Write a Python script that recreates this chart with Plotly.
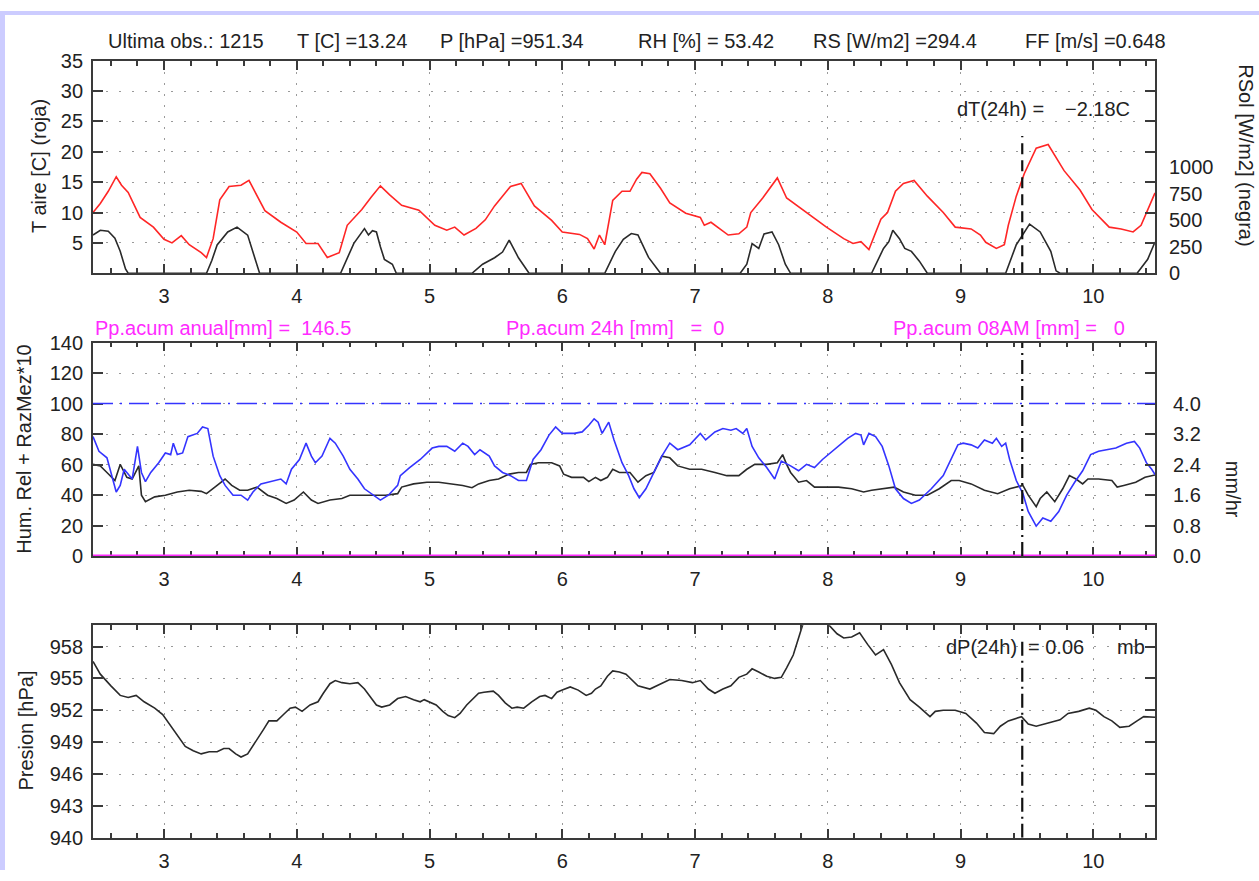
import plotly.graph_objects as go

W, H = 1259, 881

# ---------------- station series (day of month, value) ----------------
temp_c = [
    (2.465, 10.0), (2.52, 11.5), (2.58, 13.5), (2.64, 15.9), (2.68, 14.5), (2.73, 13.3),
    (2.82, 9.2), (2.92, 7.6), (3.00, 5.6), (3.06, 5.0), (3.13, 6.2), (3.19, 4.7),
    (3.28, 3.4), (3.32, 2.6), (3.37, 5.7), (3.42, 12.1), (3.49, 14.3), (3.58, 14.5),
    (3.64, 15.3), (3.70, 12.8), (3.76, 10.3), (3.88, 8.4), (4.00, 6.8), (4.07, 4.9),
    (4.16, 4.9), (4.23, 2.6), (4.32, 3.4), (4.38, 7.9), (4.49, 10.5), (4.56, 12.5),
    (4.63, 14.4), (4.70, 12.9), (4.79, 11.2), (4.92, 10.4), (5.04, 7.9), (5.13, 7.1),
    (5.19, 7.6), (5.26, 6.3), (5.35, 7.4), (5.42, 8.8), (5.49, 11.1), (5.61, 14.3),
    (5.69, 14.8), (5.79, 11.1), (5.92, 8.7), (6.00, 6.8), (6.13, 6.4), (6.19, 5.7),
    (6.24, 4.0), (6.28, 6.3), (6.32, 4.7), (6.38, 12.0), (6.45, 13.5), (6.51, 13.5),
    (6.56, 15.5), (6.60, 16.6), (6.66, 16.4), (6.74, 14.0), (6.81, 11.6), (6.93, 9.9),
    (7.04, 9.2), (7.07, 7.9), (7.12, 8.4), (7.25, 6.3), (7.33, 6.5), (7.39, 7.6),
    (7.42, 10.0), (7.51, 12.4), (7.62, 15.7), (7.69, 12.4), (7.84, 10.0), (7.99, 7.6),
    (8.12, 5.7), (8.19, 4.9), (8.25, 5.2), (8.31, 3.9), (8.40, 8.9), (8.45, 10.0),
    (8.51, 13.5), (8.57, 14.8), (8.65, 15.3), (8.75, 12.7), (8.87, 10.0), (8.96, 7.6),
    (9.08, 7.3), (9.15, 6.3), (9.19, 5.1), (9.27, 4.1), (9.33, 4.7), (9.36, 7.9),
    (9.42, 12.7), (9.48, 16.4), (9.57, 20.6), (9.66, 21.2), (9.78, 16.9), (9.90, 13.7),
    (9.99, 10.5), (10.12, 7.6), (10.21, 7.3), (10.30, 6.8), (10.36, 7.9), (10.41, 10.5),
    (10.465, 13.24),
]

rsol_wm2 = [
    (2.465, 360), (2.52, 405), (2.58, 395), (2.63, 330), (2.67, 207), (2.71, 40), (2.73, 0),
    (3.32, 0), (3.36, 120), (3.40, 267), (3.48, 389), (3.55, 434), (3.63, 359), (3.69, 115), (3.72, 0),
    (4.33, 0), (4.38, 150), (4.43, 282), (4.51, 420), (4.54, 360), (4.57, 400), (4.60, 389),
    (4.63, 250), (4.66, 131), (4.72, 85), (4.75, 0),
    (5.32, 0), (5.40, 85), (5.49, 146), (5.55, 200), (5.60, 313), (5.67, 146), (5.75, 0),
    (6.32, 0), (6.40, 207), (6.46, 320), (6.52, 374), (6.57, 360), (6.65, 149), (6.74, 0),
    (7.34, 0), (7.39, 85), (7.43, 280), (7.48, 234), (7.52, 371), (7.58, 389), (7.63, 269),
    (7.68, 85), (7.72, 0),
    (8.33, 0), (8.42, 234), (8.46, 297), (8.49, 406), (8.54, 326), (8.58, 234), (8.63, 206),
    (8.69, 114), (8.75, 0),
    (9.34, 0), (9.42, 269), (9.52, 463), (9.60, 389), (9.68, 206), (9.72, 23), (9.75, 0),
    (10.33, 0), (10.41, 131), (10.465, 294.4),
]

rel_hum = [
    (2.465, 78.3), (2.51, 68.7), (2.57, 64.4), (2.61, 50.5), (2.64, 42.0), (2.67, 46.3),
    (2.70, 56.9), (2.76, 50.5), (2.80, 71.9), (2.83, 54.8), (2.86, 48.8), (2.90, 54.8),
    (2.96, 61.2), (3.01, 67.6), (3.05, 66.5), (3.07, 74.0), (3.10, 66.5), (3.14, 67.6),
    (3.18, 78.3), (3.25, 80.4), (3.29, 84.6), (3.33, 83.6), (3.37, 65.5), (3.42, 52.7),
    (3.46, 46.3), (3.52, 39.9), (3.58, 39.9), (3.63, 36.7), (3.67, 42.0), (3.73, 47.3),
    (3.81, 48.8), (3.88, 50.5), (3.92, 47.3), (3.96, 56.9), (4.02, 63.3), (4.07, 74.0),
    (4.11, 65.5), (4.14, 61.2), (4.19, 65.5), (4.25, 77.2), (4.29, 74.0), (4.35, 65.5),
    (4.40, 56.9), (4.46, 50.5), (4.51, 44.1), (4.57, 40.3), (4.63, 36.7), (4.69, 39.9),
    (4.76, 46.3), (4.78, 52.7), (4.85, 58.0), (4.93, 63.3), (5.02, 70.8), (5.07, 71.9),
    (5.13, 71.9), (5.19, 68.7), (5.25, 74.0), (5.29, 71.9), (5.34, 66.5), (5.38, 69.7),
    (5.45, 65.5), (5.49, 59.1), (5.55, 54.8), (5.61, 52.7), (5.67, 49.5), (5.73, 49.5),
    (5.78, 63.3), (5.84, 69.7), (5.90, 79.3), (5.95, 84.6), (6.00, 80.4), (6.09, 80.4),
    (6.15, 81.4), (6.20, 85.7), (6.24, 90.0), (6.27, 87.8), (6.30, 80.4), (6.35, 87.8),
    (6.39, 76.1), (6.45, 61.2), (6.50, 52.7), (6.54, 44.1), (6.58, 38.2), (6.63, 44.1),
    (6.69, 54.8), (6.75, 65.5), (6.81, 74.0), (6.87, 69.7), (6.96, 72.9), (7.04, 80.4),
    (7.08, 76.1), (7.15, 81.4), (7.21, 83.6), (7.27, 82.5), (7.31, 83.6), (7.36, 80.4),
    (7.39, 83.6), (7.43, 71.9), (7.48, 64.4), (7.54, 58.0), (7.60, 50.5), (7.65, 62.3),
    (7.72, 59.1), (7.78, 55.9), (7.84, 60.1), (7.90, 58.0), (7.96, 63.3), (8.02, 67.6),
    (8.08, 71.9), (8.15, 77.2), (8.21, 80.4), (8.25, 79.3), (8.27, 72.9), (8.31, 80.4),
    (8.36, 78.3), (8.41, 71.9), (8.46, 59.1), (8.51, 44.1), (8.57, 37.7), (8.63, 34.5),
    (8.69, 36.7), (8.78, 44.1), (8.87, 52.7), (8.93, 63.3), (8.98, 72.9), (9.02, 74.0),
    (9.08, 72.9), (9.13, 70.8), (9.18, 76.1), (9.24, 74.0), (9.27, 77.2), (9.31, 71.9),
    (9.34, 74.0), (9.37, 63.3), (9.42, 49.5), (9.47, 40.9), (9.51, 29.2), (9.57, 19.6),
    (9.62, 24.9), (9.68, 22.8), (9.74, 29.2), (9.80, 39.9), (9.86, 48.4), (9.92, 55.9),
    (9.98, 66.5), (10.04, 68.7), (10.11, 69.7), (10.17, 70.8), (10.25, 74.0), (10.31, 75.1),
    (10.35, 70.8), (10.40, 61.2), (10.44, 56.9), (10.465, 53.42),
]

# mixing ratio (g/kg) x 10
mix_ratio_x10 = [
    (2.465, 60.1), (2.52, 59.1), (2.57, 54.8), (2.63, 49.5), (2.67, 60.1), (2.72, 51.6),
    (2.76, 50.5), (2.81, 59.1), (2.83, 39.9), (2.86, 35.6), (2.93, 38.8), (3.01, 39.9),
    (3.10, 42.0), (3.19, 43.1), (3.28, 42.4), (3.32, 40.9), (3.40, 46.3), (3.46, 50.5),
    (3.51, 46.3), (3.57, 43.1), (3.63, 43.1), (3.70, 45.2), (3.78, 39.9), (3.85, 37.7),
    (3.92, 34.5), (3.98, 36.7), (4.05, 42.0), (4.11, 36.7), (4.16, 34.5), (4.25, 36.7),
    (4.34, 37.7), (4.40, 39.9), (4.49, 39.9), (4.58, 39.9), (4.67, 39.9), (4.76, 40.9),
    (4.79, 45.2), (4.88, 47.3), (4.98, 48.4), (5.07, 48.4), (5.16, 47.3), (5.25, 46.3),
    (5.32, 44.8), (5.37, 47.3), (5.45, 49.5), (5.52, 50.5), (5.60, 53.7), (5.67, 54.8),
    (5.73, 54.8), (5.76, 60.1), (5.82, 61.2), (5.92, 61.2), (5.98, 59.1), (6.01, 53.7),
    (6.07, 51.6), (6.16, 51.6), (6.20, 48.8), (6.25, 51.6), (6.29, 49.5), (6.34, 51.6),
    (6.38, 56.9), (6.43, 54.8), (6.48, 54.8), (6.51, 54.8), (6.57, 48.4), (6.63, 52.7),
    (6.69, 54.8), (6.75, 65.5), (6.81, 64.4), (6.87, 59.1), (6.96, 56.9), (7.05, 56.9),
    (7.15, 54.8), (7.24, 52.7), (7.33, 52.7), (7.39, 56.9), (7.45, 60.1), (7.54, 60.1),
    (7.62, 61.2), (7.66, 66.5), (7.69, 60.1), (7.72, 54.8), (7.78, 48.4), (7.84, 49.5),
    (7.90, 45.2), (7.99, 45.2), (8.08, 45.2), (8.18, 44.1), (8.27, 42.0), (8.33, 43.1),
    (8.42, 44.1), (8.50, 45.2), (8.57, 42.0), (8.66, 39.9), (8.75, 39.9), (8.84, 44.1),
    (8.93, 49.5), (8.99, 49.5), (9.08, 47.3), (9.18, 43.1), (9.28, 40.9), (9.37, 44.1),
    (9.47, 46.3), (9.51, 39.9), (9.57, 32.4), (9.60, 37.7), (9.65, 42.0), (9.71, 35.6),
    (9.77, 44.1), (9.82, 52.7), (9.87, 50.5), (9.92, 47.3), (9.96, 50.5), (10.04, 50.5),
    (10.14, 49.5), (10.18, 45.2), (10.23, 46.3), (10.32, 48.4), (10.39, 51.6), (10.465, 53.1),
]

# precipitation rate (mm/hr)
precip_rate = [(2.465, 0.0), (6.465, 0.0), (10.465, 0.0)]

pressure_hpa = [
    (2.465, 956.6), (2.52, 955.4), (2.60, 954.3), (2.67, 953.4), (2.73, 953.2), (2.79, 953.4),
    (2.85, 952.8), (2.93, 952.2), (2.99, 951.6), (3.05, 950.5), (3.11, 949.5), (3.16, 948.6),
    (3.22, 948.2), (3.28, 947.9), (3.34, 948.1), (3.40, 948.1), (3.45, 948.4), (3.49, 948.4),
    (3.54, 947.9), (3.58, 947.6), (3.63, 947.9), (3.69, 949.0), (3.75, 950.2), (3.79, 951.0),
    (3.85, 951.0), (3.90, 951.6), (3.95, 952.2), (3.99, 952.3), (4.04, 951.9), (4.10, 952.5),
    (4.16, 952.8), (4.20, 953.6), (4.25, 954.5), (4.29, 954.8), (4.34, 954.6), (4.40, 954.5),
    (4.46, 954.6), (4.51, 954.0), (4.55, 953.3), (4.60, 952.5), (4.64, 952.3), (4.70, 952.5),
    (4.76, 953.1), (4.82, 953.3), (4.88, 953.0), (4.93, 952.8), (4.96, 953.0), (5.01, 952.7),
    (5.05, 952.5), (5.10, 951.9), (5.14, 951.5), (5.19, 951.3), (5.23, 951.7), (5.28, 952.5),
    (5.32, 953.0), (5.37, 953.6), (5.41, 953.7), (5.48, 953.8), (5.52, 953.4), (5.57, 952.7),
    (5.62, 952.2), (5.66, 952.3), (5.71, 952.2), (5.77, 952.8), (5.83, 953.3), (5.87, 953.4),
    (5.92, 953.1), (5.96, 953.7), (6.00, 953.9), (6.06, 954.2), (6.12, 953.9), (6.18, 953.4),
    (6.22, 953.6), (6.25, 954.0), (6.29, 954.3), (6.34, 955.2), (6.38, 955.7), (6.43, 955.6),
    (6.48, 955.4), (6.57, 954.3), (6.66, 954.0), (6.74, 954.5), (6.81, 954.9), (6.90, 954.8),
    (6.98, 954.6), (7.04, 954.8), (7.10, 954.0), (7.15, 953.6), (7.21, 954.0), (7.27, 954.3),
    (7.33, 955.1), (7.39, 955.4), (7.43, 955.9), (7.48, 955.6), (7.54, 955.2), (7.60, 955.0),
    (7.65, 955.1), (7.69, 956.0), (7.74, 957.2), (7.78, 958.8), (7.81, 960.0), (7.85, 961.0),
    (7.91, 961.8), (7.96, 961.4), (8.01, 960.0), (8.07, 959.2), (8.12, 958.8), (8.18, 958.9),
    (8.24, 959.3), (8.30, 958.2), (8.36, 957.2), (8.42, 957.7), (8.48, 956.3), (8.54, 954.6),
    (8.62, 953.0), (8.69, 952.3), (8.77, 951.4), (8.81, 951.9), (8.87, 952.0), (8.96, 952.0),
    (9.04, 951.7), (9.12, 950.8), (9.18, 949.9), (9.25, 949.8), (9.30, 950.5), (9.36, 951.0),
    (9.46, 951.4), (9.51, 950.7), (9.57, 950.5), (9.66, 950.8), (9.75, 951.1), (9.81, 951.7),
    (9.89, 951.9), (9.97, 952.2), (10.02, 952.0), (10.08, 951.4), (10.14, 951.0), (10.20, 950.4),
    (10.27, 950.5), (10.33, 951.0), (10.38, 951.4), (10.465, 951.34),
]

# summary values printed above the panels
last_obs = "1215"
last_ff = 0.648
dT_24h = -2.18
dP_24h = 0.06
pp_anual = 146.5
pp_24h = 0
pp_08am = 0

xtick_days = [3, 4, 5, 6, 7, 8, 9, 10]
t_ticks = [5, 10, 15, 20, 25, 30, 35]
rs_ticks = [0, 250, 500, 750, 1000]
hum_ticks = [0, 20, 40, 60, 80, 100, 120, 140]
rate_ticks = [0.0, 0.8, 1.6, 2.4, 3.2, 4.0]
p_ticks = [940, 943, 946, 949, 952, 955, 958]


def unzip(pairs):
    return [p[0] for p in pairs], [p[1] for p in pairs]


t_day, t_val = unzip(temp_c)
rs_day, rs_val = unzip(rsol_wm2)
rh_day, rh_val = unzip(rel_hum)
mr_day, mr_val = unzip(mix_ratio_x10)
pp_day, pp_val = unzip(precip_rate)
p_day, p_val = unzip(pressure_hpa)

x_end = t_day[-1]
x_start = x_end - 8.0
mark_day = x_end - 1.0           # 24 h before the last observation

FONT = "Liberation Sans, Arial, Helvetica, sans-serif"
FS = 20
AXC = "#3a3a3a"
GRIDC = "#9a9a9a"
RED = "#ff2626"
BLUE = "#3434ff"
MAG = "#ff2bff"
BLK = "#2a2a2a"


def px_x(p):
    return p / W


def px_y(p):
    return 1 - p / H


XDOM = [px_x(93), px_x(1155)]
TOP = [px_y(269), px_y(51)]
MID = [px_y(559), px_y(340)]
BOT = [px_y(848), px_y(630)]

fig = go.Figure()

line_kw = dict(mode="lines", hoverinfo="skip", showlegend=False)
fig.add_trace(go.Scatter(x=rs_day, y=rs_val, xaxis="x", yaxis="y2",
                         line=dict(color=BLK, width=1.6), **line_kw))
fig.add_trace(go.Scatter(x=t_day, y=t_val, xaxis="x", yaxis="y",
                         line=dict(color=RED, width=1.6), **line_kw))
fig.add_trace(go.Scatter(x=mr_day, y=mr_val, xaxis="x2", yaxis="y3",
                         line=dict(color=BLK, width=1.6), **line_kw))
fig.add_trace(go.Scatter(x=rh_day, y=rh_val, xaxis="x2", yaxis="y3",
                         line=dict(color=BLUE, width=1.6), **line_kw))
fig.add_trace(go.Scatter(x=pp_day, y=pp_val, xaxis="x2", yaxis="y4",
                         line=dict(color=MAG, width=3), cliponaxis=False, **line_kw))
fig.add_trace(go.Scatter(x=p_day, y=p_val, xaxis="x3", yaxis="y5",
                         line=dict(color=BLK, width=1.6), **line_kw))

tickfont = dict(family=FONT, size=FS, color="#222")


def xaxis(anchor, layer="above traces"):
    return dict(
        domain=XDOM, anchor=anchor, range=[x_start, x_end],
        tickmode="array", tickvals=xtick_days, ticktext=[str(d) for d in xtick_days],
        ticks="inside", ticklen=9, tickwidth=1.5, tickcolor=AXC,
        minor=dict(dtick=0.2, tick0=0, ticks="inside", ticklen=5, tickwidth=1.5,
                   tickcolor=AXC, showgrid=False),
        showline=True, linecolor=AXC, linewidth=1.8, mirror="ticks",
        showgrid=True, gridcolor=GRIDC, gridwidth=1.3, griddash="2px,9px",
        zeroline=False, tickfont=tickfont, ticklabelstandoff=4, layer=layer,
    )


def yaxis(domain, rng, vals, anchor):
    return dict(
        domain=domain, anchor=anchor, range=rng,
        tickmode="array", tickvals=vals,
        ticks="inside", ticklen=10, tickwidth=1.5, tickcolor=AXC,
        showline=True, linecolor=AXC, linewidth=1.8, mirror="ticks",
        showgrid=True, gridcolor=GRIDC, gridwidth=1.3, griddash="2px,11px",
        zeroline=False, tickfont=tickfont, ticklabelstandoff=4,
    )


ya = yaxis(TOP, [0, 35], t_ticks, "x")
y3 = yaxis(MID, [0, 140], hum_ticks, "x2")
y5 = yaxis(BOT, [940, 960], p_ticks, "x3")

y2 = dict(overlaying="y", side="right", anchor="x", range=[0, 2000],
          tickmode="array", tickvals=rs_ticks, ticks="", showline=False,
          showgrid=False, zeroline=False, tickfont=tickfont, ticklabelstandoff=13)
y4 = dict(overlaying="y3", side="right", anchor="x2", range=[0, 5.6],
          tickmode="array", tickvals=rate_ticks,
          ticktext=[f"{v:.1f}" for v in rate_ticks], ticks="", showline=False,
          showgrid=False, zeroline=False, tickfont=tickfont, ticklabelstandoff=17)

fig.update_layout(
    width=W, height=H, margin=dict(l=0, r=0, t=0, b=0),
    paper_bgcolor="white", plot_bgcolor="white",
    font=dict(family=FONT, size=FS, color="#222"),
    xaxis=xaxis("y"), xaxis2=xaxis("y3", layer="below traces"), xaxis3=xaxis("y5"),
    yaxis=ya, yaxis2=y2, yaxis3=y3, yaxis4=y4, yaxis5=y5,
)

shapes = [
    # lavender frame strips
    dict(type="rect", xref="paper", yref="paper", x0=0, x1=px_x(5), y0=0, y1=1,
         fillcolor="#ccccff", line=dict(width=0), layer="below"),
    dict(type="rect", xref="paper", yref="paper", x0=0, x1=1, y0=px_y(4), y1=1,
         fillcolor="#ccccff", line=dict(width=0), layer="below"),
    # saturation level
    dict(type="line", xref="x2", yref="y3", x0=x_start, x1=x_end, y0=100, y1=100,
         line=dict(color=BLUE, width=1.6, dash="20px,7px,2px,7px")),
    # 24 h markers
    dict(type="line", xref="x", yref="y", x0=mark_day, x1=mark_day, y0=0, y1=22.6,
         line=dict(color="#111", width=2.2, dash="11px,6px")),
    dict(type="line", xref="x2", yref="y3", x0=mark_day, x1=mark_day, y0=0, y1=140,
         line=dict(color="#111", width=2.2, dash="14px,5px,2px,5px")),
    dict(type="line", xref="x3", yref="y5", x0=mark_day, x1=mark_day, y0=940, y1=958.8,
         line=dict(color="#111", width=2.2, dash="14px,5px,2px,5px")),
]
fig.update_layout(shapes=shapes)

NB = "\u00a0"


def note(text, x, y, anchor="left", color="#222", angle=0, size=FS):
    return dict(text=text, x=px_x(x), y=px_y(y), xref="paper", yref="paper",
                xanchor=anchor, yanchor="middle", showarrow=False, textangle=angle,
                font=dict(family=FONT, size=size, color=color))


annotations = [
    note(f"Ultima obs.: {last_obs}", 106, 31),
    note(f"T [C] ={t_val[-1]:.2f}", 295, 31),
    note(f"P [hPa] ={p_val[-1]:.2f}", 438, 31),
    note(f"RH [%] = {rh_val[-1]:.2f}", 636, 31),
    note(f"RS [W/m2] ={rs_val[-1]:.1f}", 811, 31),
    note(f"FF [m/s] ={last_ff:.3f}", 1023, 31),
    note(f"dT(24h) ={NB}", 955, 100),
    note(f"\u2212{abs(dT_24h):.2f}C", 1132, 100, anchor="right"),
    note(f"Pp.acum anual[mm] ={NB}{NB}{pp_anual}", 93, 325, color=MAG),
    note(f"Pp.acum 24h [mm]{NB}{NB}{NB}={NB}{NB}{pp_24h}", 504, 325, color=MAG),
    note(f"Pp.acum 08AM [mm] ={NB}{NB}{NB}{pp_08am}", 891, 325, color=MAG),
    note("dP(24h)", 1019, 652, anchor="right"),
    note(f"= {dP_24h:.2f}", 1026, 652),
    note("mb", 1147, 652, anchor="right"),
    note("T aire [C] (roja)", 39, 159, anchor="center", angle=-90),
    note("RSol [W/m2] (negra)", 1246, 148, anchor="center", angle=90),
    note("Hum. Rel + RazMez*10", 24, 449, anchor="center", angle=-90),
    note("mm/hr", 1233, 490, anchor="center", angle=90),
    note("Presion [hPa]", 26, 738, anchor="center", angle=-90),
]
fig.update_layout(annotations=annotations)

fig.write_html("out.html")
